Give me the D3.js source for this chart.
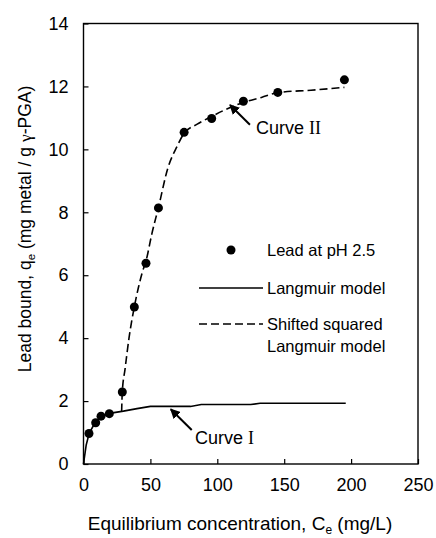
<!DOCTYPE html>
<html>
<head>
<meta charset="utf-8">
<script src="https://cdn.jsdelivr.net/npm/d3@7"></script>
<style>
  body { margin: 0; background: #fff; }
  svg { display: block; font-family: "Liberation Sans", Arial, sans-serif; }
</style>
</head>
<body>
<div id="chart"></div>
<script>
// measured points: lead at pH 2.5
var ceValues = [4.1, 9.1, 13.1, 19.3, 29.0, 38.0, 46.7, 56.0, 75.2, 95.8, 119.5, 145.2, 195.0];
var qeValues = [0.97, 1.31, 1.52, 1.60, 2.29, 4.99, 6.38, 8.14, 10.54, 10.98, 11.53, 11.81, 12.21];

// Langmuir model (curve I)
var langmuirC = [0, 2, 4.3, 8.6, 13.6, 19.3, 29.8, 40, 50, 80, 88, 125, 132, 196];
var langmuirQ = [0, 0.6, 0.98, 1.31, 1.5, 1.61, 1.68, 1.76, 1.83, 1.83, 1.89, 1.89, 1.93, 1.93];

// shifted squared Langmuir model (curve II)
var shiftedC = [28.5, 29, 31, 34, 38, 41, 44, 47, 51, 56, 63, 70, 75, 85, 96, 108, 120, 133, 145, 170, 195];
var shiftedQ = [1.66, 2.3, 3.0, 4.0, 5.0, 5.6, 6.1, 6.5, 7.3, 8.15, 9.4, 10.1, 10.5, 10.8, 11.05, 11.3, 11.5, 11.65, 11.8, 11.88, 11.97];

var xTicks = [0, 50, 100, 150, 200, 250];
var yTicks = [0, 2, 4, 6, 8, 10, 12, 14];

var legendLabels = ["Lead at pH 2.5", "Langmuir model", "Shifted squared", "Langmuir model"];

var elementWidth = 436, elementHeight = 538;
var margin = {left: 83.5, right: 18, top: 23.5, bottom: 74};
var width = elementWidth - margin.left - margin.right,
    height = elementHeight - margin.top - margin.bottom;

var svg = d3.select("#chart")
    .append("svg")
    .attr("width", elementWidth)
    .attr("height", elementHeight);

var defs = svg.append("defs");
defs.append("marker")
    .attr("id", "arrow")
    .attr("viewBox", "0 0 10 10")
    .attr("refX", 9).attr("refY", 5)
    .attr("markerWidth", 10).attr("markerHeight", 10)
    .attr("markerUnits", "userSpaceOnUse")
    .attr("orient", "auto")
    .append("path")
    .attr("d", "M0,0L10,5L0,10z")
    .attr("fill", "#000");

var g = svg.append("g").attr("transform", "translate(" + margin.left + "," + margin.top + ")");

var x = d3.scaleLinear().domain([0, 250]).range([0, width]);
var y = d3.scaleLinear().domain([0, 14]).range([height, 0]);

// axes, ticks pointing inward
var xAxis = g.append("g")
    .attr("transform", "translate(0," + height + ")")
    .call(d3.axisBottom(x).tickValues(xTicks).tickSizeInner(-5).tickSizeOuter(0).tickPadding(14));
var yAxis = g.append("g")
    .call(d3.axisLeft(y).tickValues(yTicks).tickSizeInner(-5).tickSizeOuter(0).tickPadding(15));

[xAxis, yAxis].forEach(function(a) {
    a.select(".domain").remove();
    a.selectAll("line").attr("stroke", "#000").attr("stroke-width", 1.2);
    a.selectAll("text")
        .attr("fill", "#000")
        .style("font-family", "'Liberation Sans', Arial, sans-serif")
        .style("font-size", "18px");
});

// frame
g.append("rect")
    .attr("width", width)
    .attr("height", height)
    .attr("fill", "none")
    .attr("stroke", "#000")
    .attr("stroke-width", 1.4);

var line = d3.line()
    .x(function(d) { return x(d[0]); })
    .y(function(d) { return y(d[1]); });

g.append("path")
    .datum(d3.zip(langmuirC, langmuirQ))
    .attr("fill", "none")
    .attr("stroke", "#000")
    .attr("stroke-width", 1.6)
    .attr("d", line);

g.append("path")
    .datum(d3.zip(shiftedC, shiftedQ))
    .attr("fill", "none")
    .attr("stroke", "#000")
    .attr("stroke-width", 1.6)
    .attr("stroke-dasharray", "8,4")
    .attr("d", line.curve(d3.curveMonotoneX));

g.selectAll(".pt")
    .data(d3.zip(ceValues, qeValues))
    .enter().append("circle")
    .attr("class", "pt")
    .attr("cx", function(d) { return x(d[0]); })
    .attr("cy", function(d) { return y(d[1]); })
    .attr("r", 4.5)
    .attr("fill", "#000");

// legend
var lg = g.append("g").attr("transform", "translate(" + (115.5) + "," + (226.5) + ")");
lg.append("circle").attr("cx", 32).attr("cy", 0).attr("r", 4.5).attr("fill", "#000");
lg.append("line").attr("x1", 0).attr("x2", 64).attr("y1", 38).attr("y2", 38)
    .attr("stroke", "#000").attr("stroke-width", 1.6);
lg.append("line").attr("x1", 0).attr("x2", 64).attr("y1", 74).attr("y2", 74)
    .attr("stroke", "#000").attr("stroke-width", 1.6).attr("stroke-dasharray", "8,4");
lg.selectAll("text.leg")
    .data(legendLabels)
    .enter().append("text")
    .attr("class", "leg")
    .attr("x", 68)
    .attr("y", function(d, i) { return [0, 38, 74, 96][i]; })
    .attr("dy", "0.35em")
    .style("font-size", "16.5px")
    .text(function(d) { return d; });

// annotations
function annotate(tail, tip, pos, numeral) {
    g.append("line")
        .attr("x1", x(tail[0])).attr("y1", y(tail[1]))
        .attr("x2", x(tip[0])).attr("y2", y(tip[1]))
        .attr("stroke", "#000").attr("stroke-width", 2)
        .attr("marker-end", "url(#arrow)");
    var t = g.append("text")
        .attr("x", x(pos[0])).attr("y", y(pos[1]))
        .style("font-size", "18px");
    t.append("tspan").text("Curve ");
    t.append("tspan").style("font-family", "'Liberation Serif', serif").text(numeral);
}
annotate([124.4, 10.78], [109.5, 11.41], [129, 10.48], "II");
annotate([80.9, 1.08], [65.2, 1.74], [83.3, 0.64], "I");

// axis titles
var xt = svg.append("text")
    .attr("x", 240)
    .attr("y", 530)
    .attr("text-anchor", "middle")
    .style("font-size", "19px");
xt.append("tspan").text("Equilibrium concentration, C");
xt.append("tspan").attr("dy", 4).style("font-size", "12px").text("e");
xt.append("tspan").attr("dy", -4).text(" (mg/L)");

var yt = svg.append("text")
    .attr("transform", "translate(31,229) rotate(-90)")
    .attr("text-anchor", "middle")
    .style("font-size", "17.5px");
yt.append("tspan").text("Lead bound, q");
yt.append("tspan").attr("dy", 4).style("font-size", "11.5px").text("e");
yt.append("tspan").attr("dy", -4).text(" (mg metal / g ");
yt.append("tspan").style("font-family", "'Liberation Serif', serif").text("γ");
yt.append("tspan").text("-PGA)");
</script>
</body>
</html>
